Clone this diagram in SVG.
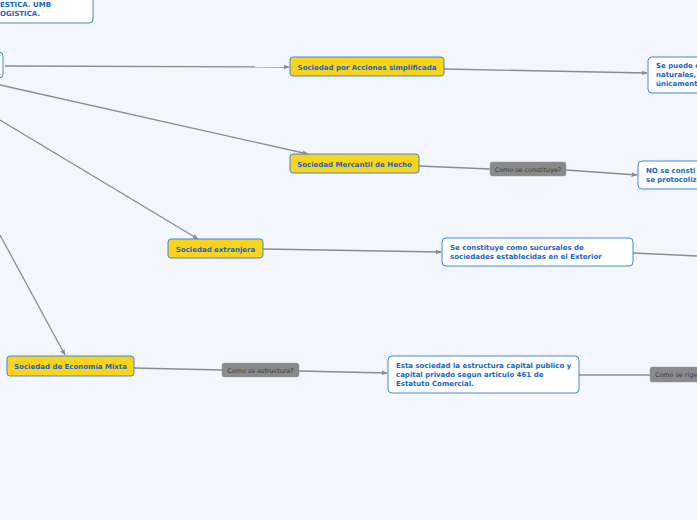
<svg xmlns="http://www.w3.org/2000/svg" width="697" height="520" viewBox="0 0 697 520">
<defs>
<marker id="arr" viewBox="0 0 10 10" refX="9" refY="5" markerWidth="6" markerHeight="6" orient="auto" markerUnits="userSpaceOnUse"><path d="M0,1 L10,5 L0,9 z" fill="#888c94"/></marker>
<style>
.bg{fill:#f3f6fe}
.c{stroke:#888c94;stroke-width:1.3;fill:none}
.y{fill:#f9d31c;stroke:#3f8ad6;stroke-width:1}
.w{fill:#ffffff;stroke:#3f8ad6;stroke-width:1}
.g{fill:#8a8a8a;stroke:#999;stroke-width:0.5}
.t{font-family:"DejaVu Sans",Verdana,sans-serif;font-weight:bold;font-size:7px;fill:#1766c2}
.lt{font-family:"DejaVu Sans",Verdana,sans-serif;font-size:6.4px;fill:#3a3a3a}
</style>
</defs>
<rect class="bg" x="0" y="0" width="697" height="520"/>
<g id="connectors">
<path class="c" d="M5,66 L289,67" marker-end="url(#arr)"/>
<path class="c" d="M444,69 L647,73" marker-end="url(#arr)"/>
<path class="c" d="M0,85 L308,154" marker-end="url(#arr)"/>
<path class="c" d="M419,166 L490,169"/>
<path class="c" d="M566,170 L637,175" marker-end="url(#arr)"/>
<path class="c" d="M0,120 L198,239" marker-end="url(#arr)"/>
<path class="c" d="M263,249 L441,252" marker-end="url(#arr)"/>
<path class="c" d="M633,253 L697,256"/>
<path class="c" d="M0,235 L65,355" marker-end="url(#arr)"/>
<path class="c" d="M134,368 L222,370"/>
<path class="c" d="M299,371 L387,373" marker-end="url(#arr)"/>
<path class="c" d="M579,375 L650,375"/>
</g>
<g id="n-top">
<rect class="w" x="-10" y="-10" width="103" height="33" rx="4"/>
<text class="t" x="0" y="7">ESTICA. UMB</text>
<text class="t" x="0" y="16">OGISTICA.</text>
</g>
<g id="n-root">
<rect class="w" x="-20" y="52" width="23" height="26" rx="4"/>
</g>
<g id="n-sas">
<rect class="y" x="290" y="57" width="154" height="19" rx="3"/>
<text class="t" x="367" y="69.5" text-anchor="middle">Sociedad por Acciones simplificada</text>
</g>
<g id="n-sas-d">
<rect class="w" x="648" y="57" width="70" height="36" rx="4"/>
<text class="t" x="656" y="68">Se puede c</text>
<text class="t" x="656" y="77">naturales,</text>
<text class="t" x="656" y="86">únicament</text>
</g>
<g id="n-hecho">
<rect class="y" x="290" y="154" width="129" height="19" rx="3"/>
<text class="t" x="354.5" y="166.5" text-anchor="middle">Sociedad Mercantil de Hecho</text>
</g>
<g id="l-constituye">
<rect class="g" x="490" y="162" width="76" height="14" rx="2.5"/>
<text class="lt" x="528" y="171.5" text-anchor="middle">Como se constituye?</text>
</g>
<g id="n-hecho-d">
<rect class="w" x="638" y="161" width="80" height="28" rx="4"/>
<text class="t" x="646" y="173">NO se consti</text>
<text class="t" x="646" y="182">se protocoliz</text>
</g>
<g id="n-ext">
<rect class="y" x="168" y="239" width="95" height="19" rx="3"/>
<text class="t" x="215.5" y="251.5" text-anchor="middle">Sociedad extranjera</text>
</g>
<g id="n-ext-d">
<rect class="w" x="442" y="238" width="191" height="28" rx="4"/>
<text class="t" x="450" y="250">Se constituye como sucursales de</text>
<text class="t" x="450" y="259">sociedades establecidas en el Exterior</text>
</g>
<g id="n-mixta">
<rect class="y" x="7" y="356" width="127" height="20" rx="3"/>
<text class="t" x="70.5" y="369" text-anchor="middle">Sociedad de Economía Mixta</text>
</g>
<g id="l-estructura">
<rect class="g" x="222" y="363" width="77" height="14" rx="2.5"/>
<text class="lt" x="260.5" y="372.5" text-anchor="middle">Como se estructura?</text>
</g>
<g id="n-mixta-d">
<rect class="w" x="388" y="356" width="191" height="37" rx="4"/>
<text class="t" x="396" y="368">Esta sociedad la estructura capital publico y</text>
<text class="t" x="396" y="377">capital privado segun articulo 461 de</text>
<text class="t" x="396" y="386">Estatuto Comercial.</text>
</g>
<g id="l-rige">
<rect class="g" x="650" y="367" width="70" height="15" rx="2.5"/>
<text class="lt" x="655" y="377">Como se rige</text>
</g>
</svg>
